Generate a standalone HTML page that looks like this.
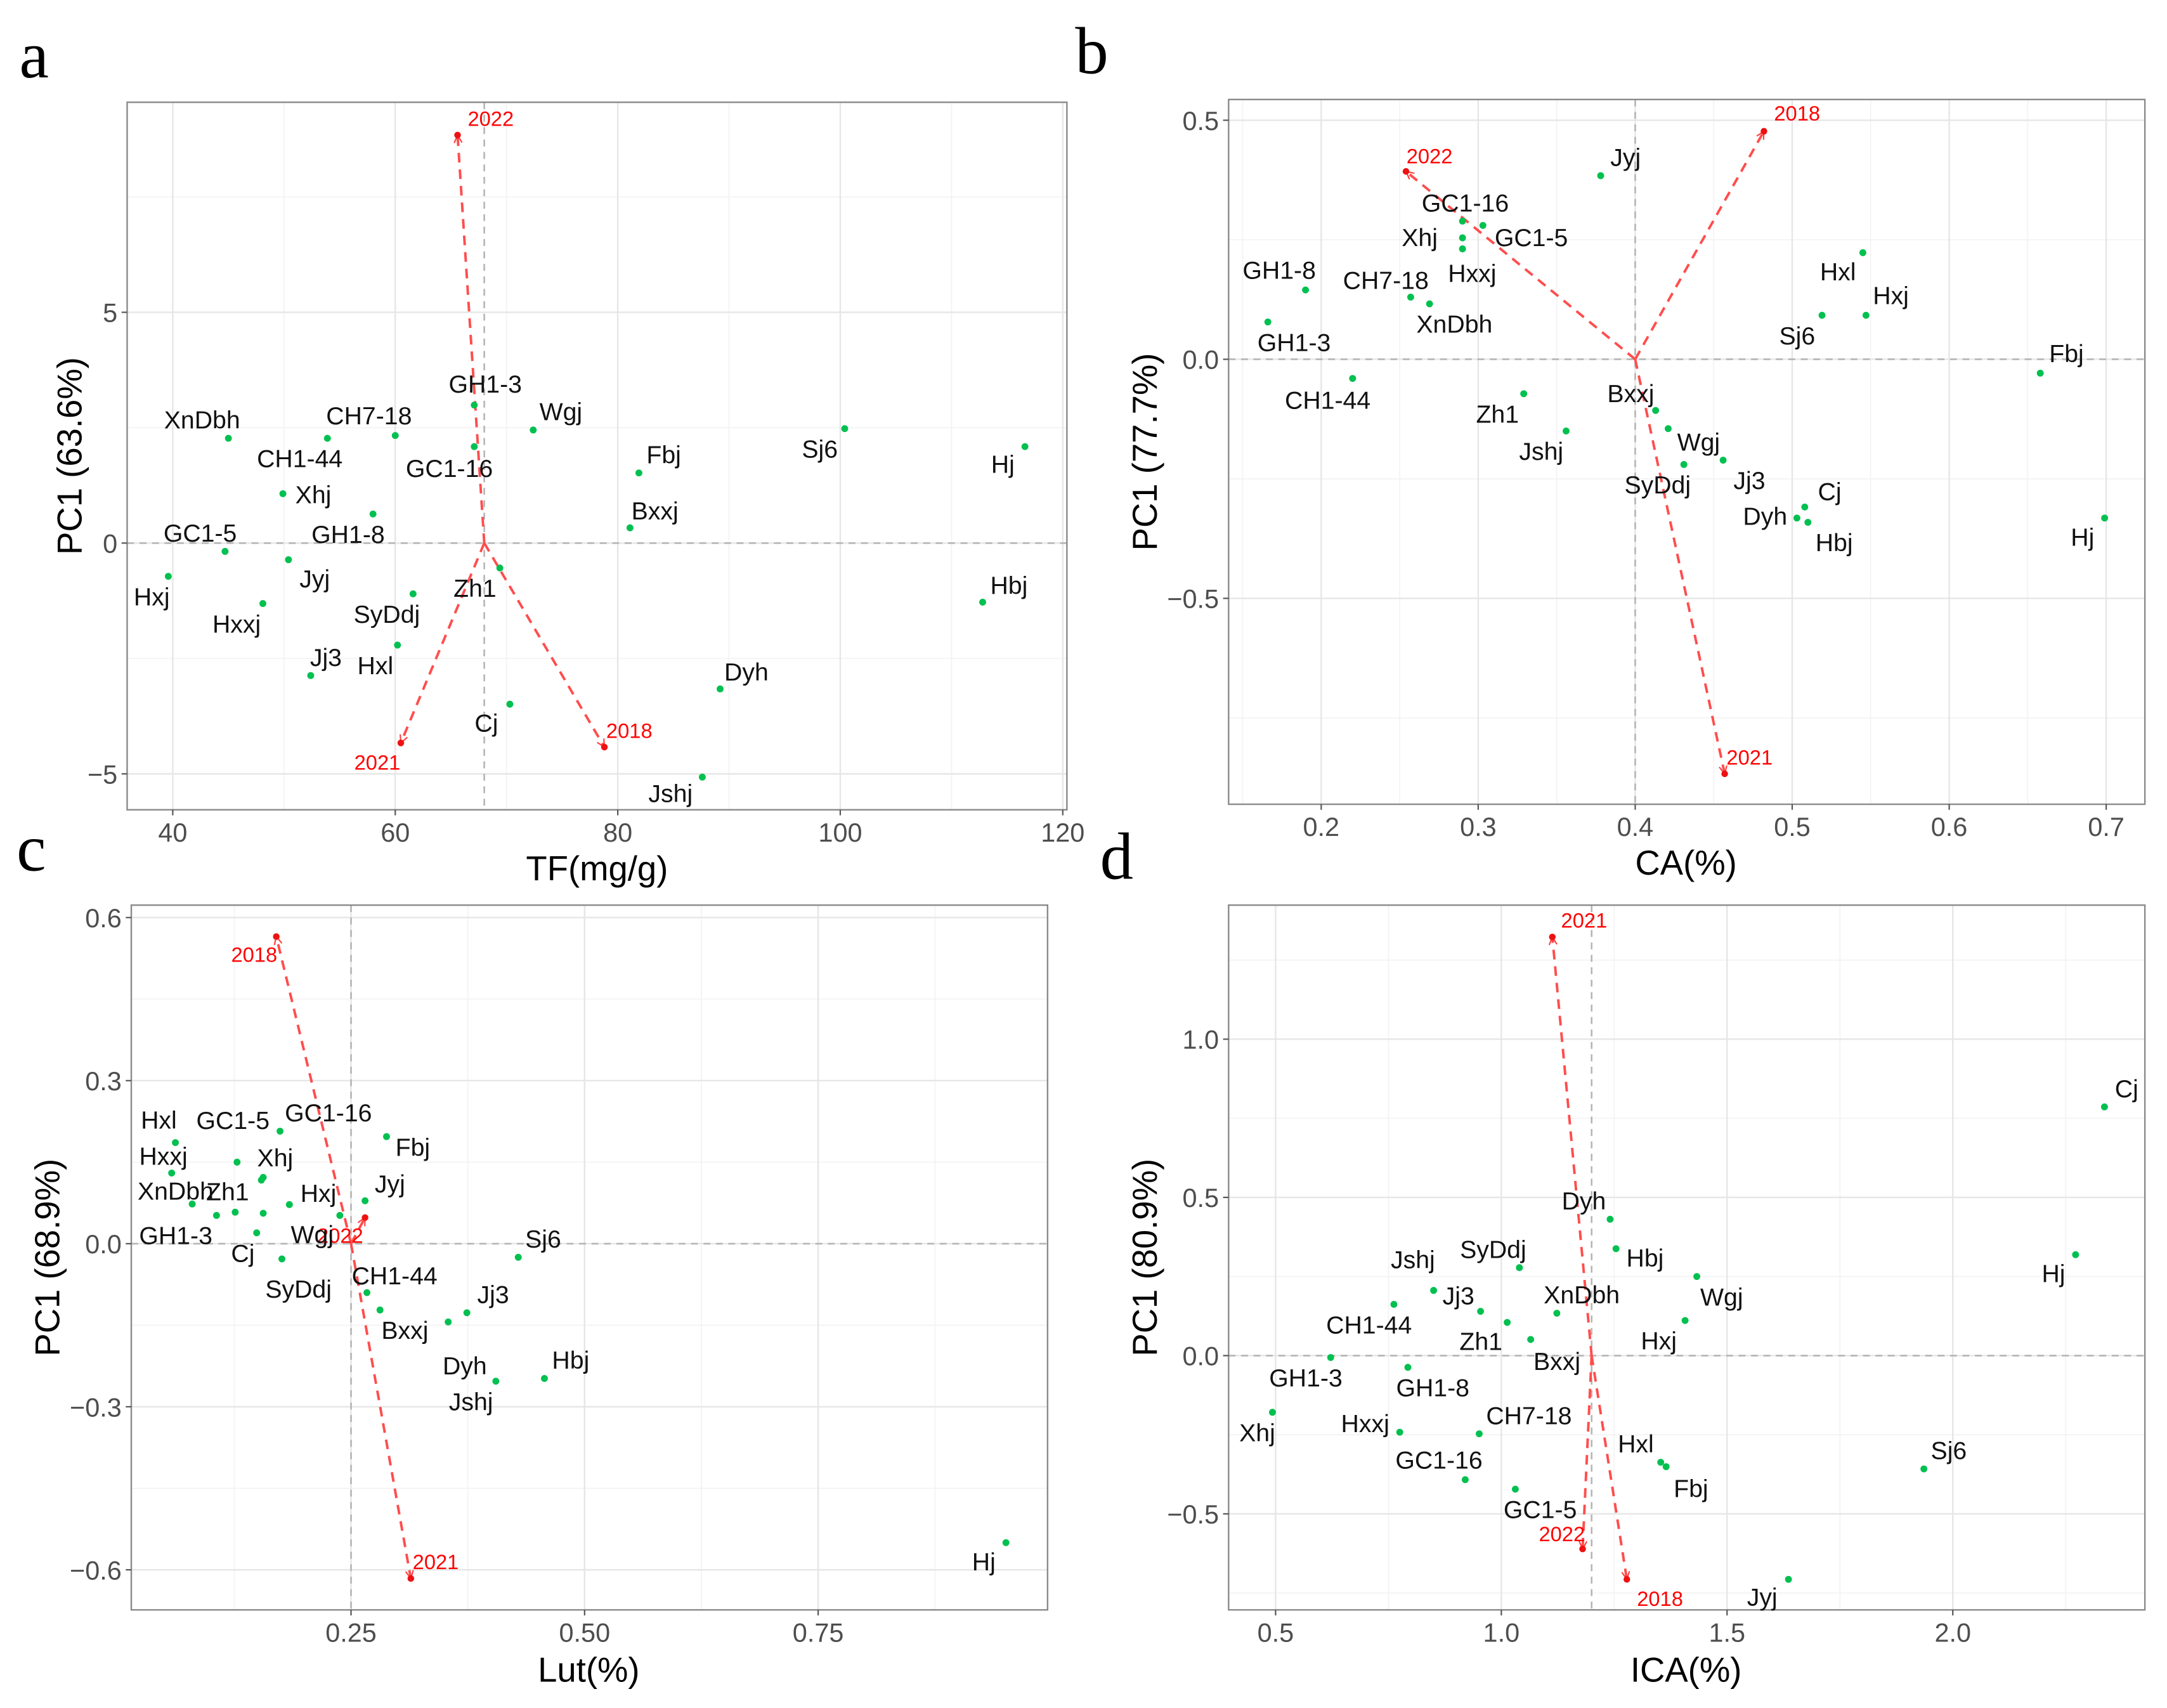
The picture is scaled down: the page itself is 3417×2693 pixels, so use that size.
<!DOCTYPE html>
<html><head><meta charset="utf-8"><style>
html,body{margin:0;padding:0;background:#fff}
svg{display:block}
text{font-family:"Liberation Sans",Arial,sans-serif}
</style></head><body>
<svg id="fig" width="3417" height="2693" viewBox="0 0 1568 1236" preserveAspectRatio="none" xmlns="http://www.w3.org/2000/svg">
<rect x="0" y="0" width="1568" height="1236" fill="#fff"/>
</svg>
<script>
// ---- Panel a data ----
const aNames = ["XnDbh","CH7-18","CH1-44","Xhj","GH1-3","Wgj","GC1-16","Fbj","Sj6","Hj","GC1-5","GH1-8","Bxxj","Hxj","Jyj","Zh1","Hxxj","SyDdj","Hbj","Hxl","Jj3","Dyh","Cj","Jshj"];
const aX = [45.0,60.0,53.9,49.9,67.1,72.4,67.1,81.9,100.4,116.6,44.7,58.0,81.1,39.6,50.4,69.4,48.1,61.6,112.8,60.2,52.4,89.2,70.3,87.6];
const aY = [2.27,2.33,2.27,1.07,2.99,2.45,2.09,1.52,2.48,2.09,-0.18,0.63,0.33,-0.72,-0.36,-0.54,-1.31,-1.10,-1.28,-2.21,-2.87,-3.16,-3.49,-5.07];
const aLabelDX = [-19,-19,-20,22,8,20,-18,18,-18,-16,-18,-18,18,-12,19,-18,-19,-19,19,-16,11,19,-17,-23];
const aLabelDY = [-13,-14,15,1,-15,-13,16,-13,15,13,-13,15,-12,15,14,15,15,15,-12,15,-13,-12,14,12];
const aYears = ["2022","2021","2018"];
const aYearX = [65.6,60.5,78.8];
const aYearY = [8.84,-4.33,-4.42];
const aYearDX = [24,-17,18], aYearDY = [-12,14,-12];
const aOrigin = [68,0];
const aXTicks = [40,60,80,100,120], aXTickLabels = ["40","60","80","100","120"];
const aYTicks = [-5,0,5], aYTickLabels = ["\u22125","0","5"];

// ---- Panel b data ----
const bNames = ["Jyj","GC1-16","GC1-5","Xhj","Hxxj","GH1-8","CH7-18","XnDbh","GH1-3","Hxl","Hxj","Sj6","Fbj","CH1-44","Zh1","Jshj","Bxxj","Wgj","SyDdj","Jj3","Cj","Dyh","Hbj","Hj"];
const bX = [0.378,0.290,0.303,0.290,0.290,0.190,0.257,0.269,0.166,0.545,0.547,0.519,0.658,0.220,0.329,0.356,0.413,0.421,0.431,0.456,0.508,0.503,0.510,0.699];
const bY = [0.384,0.289,0.280,0.254,0.231,0.145,0.130,0.116,0.078,0.223,0.092,0.092,-0.029,-0.040,-0.072,-0.150,-0.107,-0.145,-0.220,-0.211,-0.309,-0.332,-0.341,-0.332];
const bLabelDX = [18,2,35,-31,7,-19,-18,18,19,-18,18,-18,19,-18,-19,-18,-18,22,-19,19,18,-23,19,-16];
const bLabelDY = [-13,-13,9,0,18,-14,-12,15,15,14,-14,15,-14,16,15,15,-12,10,15,15,-11,-1,15,14];
const bYears = ["2022","2018","2021"];
const bYearX = [0.254,0.482,0.457];
const bYearY = [0.393,0.477,-0.867];
const bYearDX = [17,24,18], bYearDY = [-11,-13,-12];
const bOrigin = [0.4,0];
const bXTicks = [0.2,0.3,0.4,0.5,0.6,0.7], bXTickLabels = ["0.2","0.3","0.4","0.5","0.6","0.7"];
const bYTicks = [-0.5,0,0.5], bYTickLabels = ["\u22120.5","0.0","0.5"];

// ---- Panel c data ----
const cNames = ["Hxl","GC1-5","GC1-16","Fbj","Hxxj","Xhj","XnDbh","Zh1","Hxj","Jyj","GH1-3","Wgj","Cj","SyDdj","CH7-18","GH1-8","CH1-44","Bxxj","Jj3","Sj6","Dyh","Jshj","Hbj","Hj"];
const cX = [0.062,0.128,0.174,0.288,0.058,0.154,0.080,0.106,0.184,0.265,0.126,0.238,0.149,0.176,0.156,0.156,0.267,0.281,0.374,0.429,0.354,0.405,0.457,0.951];
const cY = [0.186,0.150,0.207,0.197,0.130,0.117,0.073,0.052,0.072,0.079,0.058,0.052,0.020,-0.028,0.122,0.056,-0.090,-0.122,-0.127,-0.025,-0.144,-0.253,-0.248,-0.550];
const cLabelDX = [-12,-3,35,19,-6,10,-12,8,21,18,-43,-20,-10,12,null,null,20,18,19,18,12,-18,19,-16];
const cLabelDY = [-16,-30,-13,8,-12,-16,-9,-17,-8,-12,17,14,15,22,null,null,-12,15,-13,-13,32,15,-13,14];
const cYears = ["2018","2021","2022"];
const cYearX = [0.170,0.314,0.265];
const cYearY = [0.565,-0.616,0.048];
const cYearDX = [-16,18,-18], cYearDY = [13,-12,13];
const cOrigin = [0.25,0];
const cXTicks = [0.25,0.5,0.75], cXTickLabels = ["0.25","0.50","0.75"];
const cYTicks = [-0.6,-0.3,0,0.3,0.6], cYTickLabels = ["\u22120.6","\u22120.3","0.0","0.3","0.6"];

// ---- Panel d data ----
const dNames = ["Dyh","Hbj","SyDdj","Wgj","Jshj","CH1-44","Jj3","XnDbh","Zh1","Hxj","Bxxj","GH1-3","GH1-8","Xhj","Hxxj","CH7-18","Hxl","Fbj","GC1-16","GC1-5","Cj","Hj","Sj6","Jyj"];
const dX = [1.241,1.254,1.040,1.433,0.850,0.762,0.954,1.123,1.013,1.407,1.065,0.622,0.793,0.493,0.775,0.951,1.353,1.365,0.920,1.031,2.336,2.272,1.936,1.636];
const dY = [0.431,0.338,0.278,0.250,0.206,0.162,0.140,0.134,0.105,0.111,0.051,-0.006,-0.037,-0.179,-0.242,-0.247,-0.337,-0.351,-0.392,-0.422,0.786,0.319,-0.358,-0.707];
const dLabelDX = [-19,21,-19,18,-15,-18,-16,18,-19,-19,19,-18,18,-11,-25,36,-18,18,-19,18,16,-16,18,-19];
const dLabelDY = [-13,7,-13,15,-22,15,-11,-13,14,15,16,15,15,15,-6,-13,-13,16,-14,15,-13,14,-13,13];
const dYears = ["2021","2022","2018"];
const dYearX = [1.113,1.180,1.278];
const dYearY = [1.323,-0.611,-0.707];
const dYearDX = [23,-15,24], dYearDY = [-12,-11,14];
const dOrigin = [1.2,0];
const dXTicks = [0.5,1.0,1.5,2.0], dXTickLabels = ["0.5","1.0","1.5","2.0"];
const dYTicks = [-0.5,0,0.5,1.0], dYTickLabels = ["\u22120.5","0.0","0.5","1.0"];

const NS = "http://www.w3.org/2000/svg";
const svg = document.getElementById("fig");
function mk(tag, attrs, parent) {
  const e = document.createElementNS(NS, tag);
  for (const k in attrs) e.setAttribute(k, attrs[k]);
  (parent || svg).appendChild(e);
  return e;
}
function lin(d0, p0, d1, p1) { return v => p0 + (v - d0) * (p1 - p0) / (d1 - d0); }

const defs = mk("defs", {});
const mkr = mk("marker", {id: "arr", viewBox: "0 0 10 10", refX: "9", refY: "5", markerWidth: "7", markerHeight: "7", orient: "auto-start-reverse", markerUnits: "userSpaceOnUse"}, defs);
mk("path", {d: "M1,1 L9,5 L1,9", fill: "none", stroke: "#ff4040", "stroke-width": "1.4"}, mkr);

function panel(cfg) {
  const g = mk("g", {});
  
  
  const [bx0, by0, bx1, by1] = cfg.box;
  const sx = lin(...cfg.xmap), sy = lin(...cfg.ymap);
  const clipId = "clip-" + cfg.id;
  const cp = mk("clipPath", {id: clipId}, defs);
  mk("rect", {x: bx0, y: by0, width: bx1 - bx0, height: by1 - by0}, cp);
  const gridG = mk("g", {"clip-path": "url(#" + clipId + ")"}, g);
  
  
  const xs = cfg.xt[1] - cfg.xt[0], ys = cfg.yt[1] - cfg.yt[0];
  for (let k = -4; k < cfg.xt.length + 4; k++) {
    const v = cfg.xt[0] + (k + 0.5) * xs, px = sx(v);
    if (px > bx0 && px < bx1) mk("line", {x1: px, x2: px, y1: by0, y2: by1, stroke: "#f3f3f3", "stroke-width": 0.8}, gridG);
  }
  for (let k = -4; k < cfg.yt.length + 4; k++) {
    const v = cfg.yt[0] + (k + 0.5) * ys, py = sy(v);
    if (py > by0 && py < by1) mk("line", {x1: bx0, x2: bx1, y1: py, y2: py, stroke: "#f3f3f3", "stroke-width": 0.8}, gridG);
  }
  cfg.xt.forEach(v => mk("line", {x1: sx(v), x2: sx(v), y1: by0, y2: by1, stroke: "#e6e6e6", "stroke-width": 1.1}, gridG));
  cfg.yt.forEach(v => mk("line", {x1: bx0, x2: bx1, y1: sy(v), y2: sy(v), stroke: "#e6e6e6", "stroke-width": 1.1}, gridG));
  const refV = mk("line", {x1: sx(cfg.origin[0]), x2: sx(cfg.origin[0]), y1: by0, y2: by1, stroke: "#b5b5b5", "stroke-width": 1.2, "stroke-dasharray": "5,4"}, g);
  
  
  const refH = mk("line", {x1: bx0, x2: bx1, y1: sy(cfg.origin[1]), y2: sy(cfg.origin[1]), stroke: "#b5b5b5", "stroke-width": 1.2, "stroke-dasharray": "5,4"}, g);
  
  
  const border = mk("rect", {x: bx0, y: by0, width: bx1 - bx0, height: by1 - by0, fill: "none", stroke: "#8a8a8a", "stroke-width": 1.1}, g);
  
  
  cfg.xt.forEach((v, i) => {
    const px = sx(v);
    mk("line", {x1: px, x2: px, y1: by1, y2: by1 + 4, stroke: "#555", "stroke-width": 1}, g);
    const t = mk("text", {x: px, y: by1 + 23, "text-anchor": "middle", "font-size": 19, fill: "#4d4d4d"}, g);
    t.textContent = cfg.xl[i];
    
    
  });
  cfg.yt.forEach((v, i) => {
    const py = sy(v);
    mk("line", {x1: bx0 - 4, x2: bx0, y1: py, y2: py, stroke: "#555", "stroke-width": 1}, g);
    const t = mk("text", {x: bx0 - 7, y: py + 7, "text-anchor": "end", "font-size": 19, fill: "#4d4d4d"}, g);
    t.textContent = cfg.yl[i];
    
    
  });
  const xt = mk("text", {x: cfg.xtitle[1], y: cfg.xtitle[2], "text-anchor": "middle", "font-size": 25, fill: "#000"}, g);
  xt.textContent = cfg.xtitle[0];
  
  
  const yt = mk("text", {x: 0, y: 0, "text-anchor": "middle", "font-size": 25, fill: "#000", transform: "translate(" + cfg.ytitle[1] + "," + cfg.ytitle[2] + ") rotate(-90)"}, g);
  yt.textContent = cfg.ytitle[0];
  
  
  const pl = mk("text", {x: cfg.letter[1], y: cfg.letter[2], "font-size": 48, fill: "#000", style: "font-family:'Liberation Serif',serif"}, g);
  pl.textContent = cfg.letter[0];
  
  
  const ox = sx(cfg.origin[0]), oy = sy(cfg.origin[1]);
  cfg.years.forEach((yr, i) => {
    const tx = sx(cfg.yx[i]), ty = sy(cfg.yy[i]);
    const ln = mk("line", {x1: ox, y1: oy, x2: tx, y2: ty, stroke: "#ff4d4d", "stroke-width": 1.8, "stroke-dasharray": "7,5", "marker-end": "url(#arr)"}, g);
    
    
    const c = mk("circle", {cx: tx, cy: ty, r: 2.4, fill: "#ee1111"}, g);
    
    
    const t = mk("text", {x: tx + cfg.ydx[i], y: ty + cfg.ydy[i], "text-anchor": "middle", "dominant-baseline": "central", "font-size": 15, fill: "#ff0000"}, g);
    t.textContent = yr;
    
    
  });
  cfg.names.forEach((n, i) => {
    const px = sx(cfg.x[i]), py = sy(cfg.y[i]);
    const c = mk("circle", {cx: px, cy: py, r: 2.5, fill: "#00c050"}, g);
    
    
    if (cfg.ldx[i] === null) return;
    const t = mk("text", {x: px + cfg.ldx[i], y: py + cfg.ldy[i], "text-anchor": "middle", "dominant-baseline": "central", "font-size": 18, fill: "#111"}, g);
    t.textContent = n;
    
    
  });
}

panel({id: "a", box: [92, 74, 772, 586], xmap: [40, 125, 120, 769], ymap: [0, 393, 5, 226],
  xt: aXTicks, xl: aXTickLabels, yt: aYTicks, yl: aYTickLabels,
  xtitle: ["TF(mg/g)", 432, 637], ytitle: ["PC1 (63.6%)", 59, 330], letter: ["a", 14, 56],
  origin: aOrigin, years: aYears, yx: aYearX, yy: aYearY, ydx: aYearDX, ydy: aYearDY,
  names: aNames, x: aX, y: aY, ldx: aLabelDX, ldy: aLabelDY});
panel({id: "b", box: [889, 72, 1552, 582], xmap: [0.2, 956, 0.7, 1524], ymap: [0, 260, 0.5, 87],
  xt: bXTicks, xl: bXTickLabels, yt: bYTicks, yl: bYTickLabels,
  xtitle: ["CA(%)", 1220, 633], ytitle: ["PC1 (77.7%)", 837, 327], letter: ["b", 778, 53],
  origin: bOrigin, years: bYears, yx: bYearX, yy: bYearY, ydx: bYearDX, ydy: bYearDY,
  names: bNames, x: bX, y: bY, ldx: bLabelDX, ldy: bLabelDY});
panel({id: "c", box: [95, 655, 758, 1165], xmap: [0.25, 254, 0.75, 592], ymap: [0, 900, 0.6, 664],
  xt: cXTicks, xl: cXTickLabels, yt: cYTicks, yl: cYTickLabels,
  xtitle: ["Lut(%)", 426, 1217], ytitle: ["PC1 (68.9%)", 43, 910], letter: ["c", 12, 630],
  origin: cOrigin, years: cYears, yx: cYearX, yy: cYearY, ydx: cYearDX, ydy: cYearDY,
  names: cNames, x: cX, y: cY, ldx: cLabelDX, ldy: cLabelDY});
panel({id: "d", box: [889, 655, 1552, 1165], xmap: [0.5, 923, 2.0, 1413], ymap: [0, 981, 1.0, 752],
  xt: dXTicks, xl: dXTickLabels, yt: dYTicks, yl: dYTickLabels,
  xtitle: ["ICA(%)", 1220, 1217], ytitle: ["PC1 (80.9%)", 837, 910], letter: ["d", 796, 636],
  origin: dOrigin, years: dYears, yx: dYearX, yy: dYearY, ydx: dYearDX, ydy: dYearDY,
  names: dNames, x: dX, y: dY, ldx: dLabelDX, ldy: dLabelDY});
</script>
</body></html>
